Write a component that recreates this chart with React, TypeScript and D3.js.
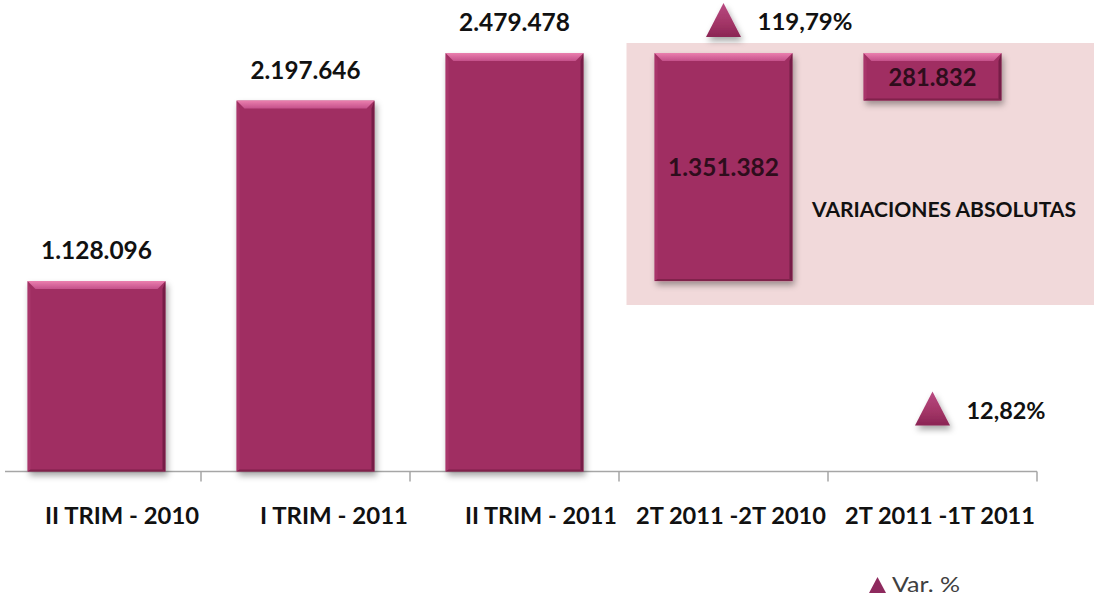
import React from "react";
import * as d3 from "d3";

const categories = ["II TRIM - 2010", "I TRIM - 2011", "II TRIM - 2011", "2T 2011 -2T 2010", "2T 2011 -1T 2011"];
const barBase = [0, 0, 0, 1128096, 2197646];
const barValue = [1128096, 2197646, 2479478, 1351382, 281832];
const varPct: (number | null)[] = [null, null, null, 119.79, 12.82];
const boxTitle = "VARIACIONES ABSOLUTAS";
const legendLabel = "Var. %";

const W = 1094;
const H = 596;
const FONT = "Lato, 'Open Sans', sans-serif";

const esLocale = d3.formatLocale({ decimal: ",", thousands: ".", grouping: [3], currency: ["", "€"] });
const fmtInt = esLocale.format(",d");
const fmtPct = (v: number) => esLocale.format(".2f")(v) + "%";

const x = d3.scaleBand<string>().domain(categories).range([-8, 1037]).padding(0);
const y = d3.scaleLinear().domain([0, 2600000]).range([471.5, 32.7]);
const yPct = d3.scaleLinear().domain([0, 120]).range([455.1, 19.3]);

const BAR_FRAC = 0.66;
const BEVEL = 8;
const SIDE = 3;

function Bar({ x0, w, yTop, yBot }: { x0: number; w: number; yTop: number; yBot: number }) {
  const x1 = x0 + w;
  const b = Math.min(BEVEL, (yBot - yTop) / 3);
  return (
    <g filter="url(#shadow)">
      <rect x={x0} y={yTop} width={w} height={yBot - yTop} fill="#a02f62" />
      <polygon points={`${x0},${yTop} ${x0 + SIDE},${yTop + b} ${x0 + SIDE},${yBot - 2} ${x0},${yBot}`} fill="#b03c72" opacity={0.5} />
      <polygon points={`${x1},${yTop} ${x1 - SIDE},${yTop + b} ${x1 - SIDE},${yBot - 2} ${x1},${yBot}`} fill="#6a183e" opacity={0.75} />
      <polygon points={`${x0},${yBot} ${x0 + SIDE},${yBot - 2} ${x1 - SIDE},${yBot - 2} ${x1},${yBot}`} fill="#6a183e" opacity={0.6} />
      <polygon points={`${x0},${yTop} ${x1},${yTop} ${x1 - b},${yTop + b} ${x0 + b},${yTop + b}`} fill="url(#topBevel)" />
    </g>
  );
}

export default function App() {
  const bw = x.bandwidth();
  const barW = bw * BAR_FRAC;
  const ticks = categories.map((c) => (x(c) as number) + bw);
  const labelWidths = [154, 148, 152, 190, 190];
  const valueWidths = [111, 110, 111, 111, 88];
  const pctWidths: Record<number, number> = { 3: 95, 4: 79 };

  return (
    <svg width={W} height={H} style={{ position: "absolute", left: 0, top: 0, background: "#fff" }} fontFamily={FONT}>
      <defs>
        <filter id="shadow" x="-20%" y="-20%" width="150%" height="150%">
          <feDropShadow dx="2" dy="4" stdDeviation="3" floodColor="#000" floodOpacity="0.35" />
        </filter>
        <linearGradient id="topBevel" x1="0" y1="0" x2="0" y2="1">
          <stop offset="0" stopColor="#ea7fae" />
          <stop offset="1" stopColor="#c4508a" />
        </linearGradient>
        <linearGradient id="triGrad" x1="0" y1="0" x2="0" y2="1">
          <stop offset="0" stopColor="#b94a82" />
          <stop offset="0.6" stopColor="#a23566" />
          <stop offset="1" stopColor="#8a2454" />
        </linearGradient>
      </defs>
      <rect width={W} height={H} fill="#fff" />

      {/* background box for absolute variations */}
      <rect x={(x(categories[3]) as number) + 7.5} y={43} width={W} height={262} fill="#f1d9da" />

      {/* axis */}
      <line x1={5} x2={ticks[ticks.length - 1]} y1={y(0)} y2={y(0)} stroke="#a6a6a6" strokeWidth={1.5} />
      {ticks.map((t, i) => (
        <line key={i} x1={t} x2={t} y1={y(0)} y2={y(0) + 10} stroke="#a6a6a6" strokeWidth={1.5} />
      ))}

      {/* bars */}
      {categories.map((c, i) => {
        const cx = (x(c) as number) + bw / 2;
        const yTop = y(barBase[i] + barValue[i]);
        const yBot = y(barBase[i]);
        return <Bar key={c} x0={cx - barW / 2} w={barW} yTop={yTop} yBot={yBot} />;
      })}

      {/* value labels */}
      {categories.map((c, i) => {
        const cx = (x(c) as number) + bw / 2;
        const yTop = y(barBase[i] + barValue[i]);
        const yBot = y(barBase[i]);
        const inside = barBase[i] > 0;
        const ty = inside ? (yTop + yBot) / 2 + 9 : yTop - 22;
        return (
          <text key={c} x={cx} y={ty} textAnchor="middle" fontSize={25} fontWeight={700}
            fill={inside ? "#2e0d1c" : "#111"} textLength={valueWidths[i]} lengthAdjust="spacingAndGlyphs">
            {fmtInt(barValue[i])}
          </text>
        );
      })}

      <text x={812} y={217} fontSize={21} fontWeight={700} fill="#111" textLength={264} lengthAdjust="spacingAndGlyphs">
        {boxTitle}
      </text>

      {/* var % markers */}
      {categories.map((c, i) => {
        const v = varPct[i];
        if (v == null) return null;
        const cx = (x(c) as number) + bw / 2;
        const cy = yPct(v);
        return (
          <g key={c}>
            <path d={`M${cx},${cy - 17} L${cx + 17.5},${cy + 17} L${cx - 17.5},${cy + 17} Z`} fill="url(#triGrad)" filter="url(#shadow)" />
            <text x={cx + 34} y={cy + 10} fontSize={22} fontWeight={700} fill="#111" textLength={pctWidths[i]} lengthAdjust="spacingAndGlyphs">
              {fmtPct(v)}
            </text>
          </g>
        );
      })}

      {/* category labels */}
      {categories.map((c, i) => (
        <text key={c} x={(x(c) as number) + bw - 2} y={524} textAnchor="end" fontSize={23} fontWeight={700} fill="#111"
          textLength={labelWidths[i]} lengthAdjust="spacingAndGlyphs">
          {c}
        </text>
      ))}

      {/* legend */}
      <path d="M877.5,577 L886,593 L869,593 Z" fill="#8e2a5e" />
      <text x={892} y={592} fontSize={21} fill="#404040" textLength={68} lengthAdjust="spacingAndGlyphs">{legendLabel}</text>
    </svg>
  );
}
